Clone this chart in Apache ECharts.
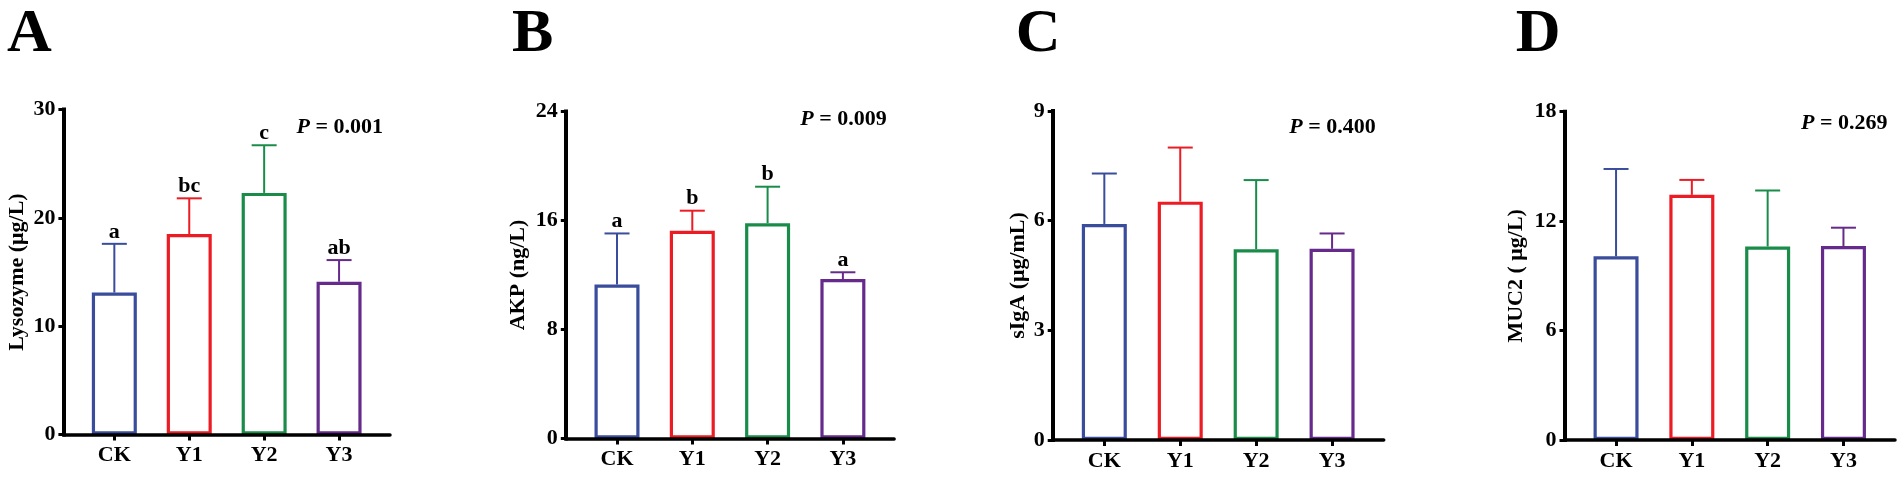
<!DOCTYPE html>
<html>
<head>
<meta charset="utf-8">
<script src="https://cdn.jsdelivr.net/npm/echarts@6/dist/echarts.min.js"></script>
<style>
html,body{margin:0;padding:0;background:#fff;}
#chart{width:1902px;height:477px;}
</style>
</head>
<body>
<div id="chart"></div>
<script>
// ---- data ----
const categories = ['CK', 'Y1', 'Y2', 'Y3'];
const panelLetters = ['A', 'B', 'C', 'D'];
const yNames = ['Lysozyme (μg/L)', 'AKP (ng/L)', 'sIgA (μg/mL)', 'MUC2 ( μg/L)'];
const yMax = [30, 24, 9, 18];
const yInterval = [10, 8, 3, 6];
const pValues = ['0.001', '0.009', '0.400', '0.269'];

const lysozymeMean = [13.1, 18.5, 22.3, 14.1];
const lysozymeSD   = [4.5, 3.3, 4.4, 2.0];
const lysozymeSig  = ['a', 'bc', 'c', 'ab'];

const akpMean = [11.3, 15.25, 15.8, 11.7];
const akpSD   = [3.75, 1.47, 2.68, 0.5];
const akpSig  = ['a', 'b', 'b', 'a'];

const sigaMean = [5.91, 6.52, 5.22, 5.23];
const sigaSD   = [1.38, 1.48, 1.89, 0.42];
const sigaSig  = ['', '', '', ''];

const muc2Mean = [10.07, 13.44, 10.61, 10.63];
const muc2SD   = [4.79, 0.82, 3.07, 1.01];
const muc2Sig  = ['', '', '', ''];

const means = [lysozymeMean, akpMean, sigaMean, muc2Mean];
const sds = [lysozymeSD, akpSD, sigaSD, muc2SD];
const sigs = [lysozymeSig, akpSig, sigaSig, muc2Sig];

// ---- layout / style ----
const colors = ['#3a4c9c', '#ec1c24', '#1a8c4a', '#652a8c'];
const FONT = '"Liberation Serif", "Times New Roman", "DejaVu Serif", serif';
const grids = [
  {left: 63.4,  top: 109.5, width: 326.6, height: 325, nameGap: 35, pRight: 319.6, pMid: 18},
  {left: 565.8, top: 111.5, width: 328.3, height: 327, nameGap: 36, pRight: 321,   pMid: 8.2},
  {left: 1052.7,top: 111,   width: 331,   height: 329, nameGap: 19, pRight: 323,   pMid: 16.5},
  {left: 1564.5,top: 111.7, width: 330.5, height: 328.3, nameGap: 37, pRight: 323, pMid: 12.1}
];
const letterX = [7, 512, 1015.7, 1515.7];

const option = {
  backgroundColor: '#ffffff',
  animation: false,
  grid: [], xAxis: [], yAxis: [], series: [], graphic: []
};

grids.forEach((g, k) => {
  option.grid.push({left: g.left, top: g.top, width: g.width, height: g.height, containLabel: false});
  option.xAxis.push({
    type: 'value', gridIndex: k, min: -0.68, max: 3.68, z: 10,
    splitLine: {show: false},
    axisLine: {show: true, onZero: false, lineStyle: {color: '#000', width: 3.5}},
    axisTick: {show: true, customValues: [0, 1, 2, 3], length: 6, lineStyle: {color: '#000', width: 3}},
    axisLabel: {
      show: true, customValues: [0, 1, 2, 3], margin: 10,
      formatter: v => categories[Math.round(v)],
      color: '#000', fontFamily: FONT, fontWeight: 'bold', fontSize: 22
    }
  });
  option.yAxis.push({
    type: 'value', gridIndex: k, min: 0, max: yMax[k], interval: yInterval[k], z: 10,
    name: yNames[k], nameLocation: 'middle', nameGap: g.nameGap,
    nameTextStyle: {color: '#000', fontFamily: FONT, fontWeight: 'bold', fontSize: 22},
    splitLine: {show: false},
    axisLine: {show: true, onZero: false, lineStyle: {color: '#000', width: 4, cap: 'square'}},
    axisTick: {show: true, length: 5, lineStyle: {color: '#000', width: 3}},
    axisLabel: {margin: 8, color: '#000', fontFamily: FONT, fontWeight: 'bold', fontSize: 22}
  });
  option.series.push({
    type: 'bar', xAxisIndex: k, yAxisIndex: k, barWidth: 45,
    data: means[k].map((v, i) => ({
      value: [i, v],
      itemStyle: {color: '#fff', borderColor: colors[i], borderWidth: 3.2}
    }))
  });
  option.series.push({
    type: 'custom', xAxisIndex: k, yAxisIndex: k, z: 5,
    data: means[k].map((v, i) => [i, v, sds[k][i]]),
    renderItem: (params, api) => {
      const i = params.dataIndex;
      const x = api.value(0), m = api.value(1), s = api.value(2);
      const p0 = api.coord([x, m]);
      const p1 = api.coord([x, m + s]);
      const c = colors[i];
      const children = [
        {type: 'line', shape: {x1: p0[0], y1: p0[1], x2: p1[0], y2: p1[1]}, style: {stroke: c, lineWidth: 2}},
        {type: 'line', shape: {x1: p1[0] - 12.5, y1: p1[1], x2: p1[0] + 12.5, y2: p1[1]}, style: {stroke: c, lineWidth: 2}}
      ];
      const lab = sigs[k][i];
      if (lab) {
        children.push({
          type: 'text',
          style: {
            text: lab, x: p1[0], y: p1[1] - 1,
            align: 'center', verticalAlign: 'bottom',
            textAlign: 'center', textVerticalAlign: 'bottom',
            font: 'bold 22px ' + FONT, fill: '#000'
          }
        });
      }
      return {type: 'group', children: children};
    }
  });
  option.graphic.push({
    type: 'text', left: letterX[k], top: 4,
    style: {text: panelLetters[k], font: 'bold 62px ' + FONT, fill: '#000'}
  });
  option.graphic.push({
    type: 'text', x: g.left + g.pRight, y: g.top + g.pMid,
    style: {
      text: '{p|P} {n|= ' + pValues[k] + '}',
      align: 'right', verticalAlign: 'middle',
      textAlign: 'right', textVerticalAlign: 'middle',
      font: 'bold 22px ' + FONT, fill: '#000',
      rich: {
        p: {fontFamily: FONT, fontSize: 22, fontWeight: 'bold', fontStyle: 'italic', fill: '#000', color: '#000'},
        n: {fontFamily: FONT, fontSize: 22, fontWeight: 'bold', fill: '#000', color: '#000'}
      }
    }
  });
});

const chart = echarts.init(document.getElementById('chart'), null, {renderer: 'canvas'});
chart.setOption(option);
</script>
</body>
</html>
